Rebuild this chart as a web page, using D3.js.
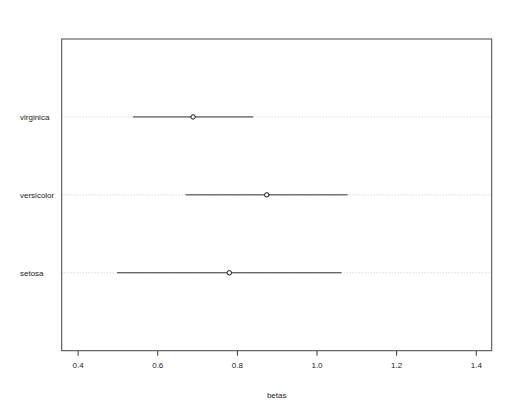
<!DOCTYPE html>
<html>
<head>
<meta charset="utf-8">
<script src="https://cdn.jsdelivr.net/npm/d3@7"></script>
<style>
  body { margin: 0; background: #fff; }
  text { font-family: "Liberation Sans", Arial, sans-serif; font-size: 8px; fill: #222; }
</style>
</head>
<body>
<div id="vis"></div>
<script>
// data
var species = ['setosa', 'versicolor', 'virginica'];
var betas = [0.781, 0.875, 0.690];
var lower = [0.499, 0.671, 0.539];
var upper = [1.063, 1.078, 0.841];
var xTicks = [0.4, 0.6, 0.8, 1.0, 1.2, 1.4];

var width = 512, height = 400;
var box = { left: 61.7, right: 491.7, top: 39, bottom: 350.7 };

var svg = d3.select('#vis').append('svg')
  .attr('width', width)
  .attr('height', height);

// R style: data range 0.4..1.4 with 4% padding
var x = d3.scaleLinear()
  .domain([0.4 - 0.04, 1.4 + 0.04])
  .range([box.left, box.right]);

var y = d3.scaleLinear()
  .domain([0, species.length + 1])
  .range([box.bottom, box.top]);

var rows = species.map(function (s, i) {
  return { name: s, beta: betas[i], lo: lower[i], hi: upper[i], pos: i + 1 };
});

// dotted guide lines
svg.append('g').selectAll('line')
  .data(rows)
  .enter()
  .append('line')
  .attr('x1', box.left)
  .attr('x2', box.right)
  .attr('y1', function (d) { return y(d.pos); })
  .attr('y2', function (d) { return y(d.pos); })
  .attr('stroke', '#c8c8c8')
  .attr('stroke-width', 1)
  .attr('stroke-dasharray', '1,2');

// interval lines
svg.append('g').selectAll('line')
  .data(rows)
  .enter()
  .append('line')
  .attr('x1', function (d) { return x(d.lo); })
  .attr('x2', function (d) { return x(d.hi); })
  .attr('y1', function (d) { return y(d.pos); })
  .attr('y2', function (d) { return y(d.pos); })
  .attr('stroke', '#333')
  .attr('stroke-width', 1);

// point estimates
svg.append('g').selectAll('circle')
  .data(rows)
  .enter()
  .append('circle')
  .attr('cx', function (d) { return x(d.beta); })
  .attr('cy', function (d) { return y(d.pos); })
  .attr('r', 2.2)
  .attr('fill', '#fff')
  .attr('stroke', '#111')
  .attr('stroke-width', 1);

// category labels, left aligned
svg.append('g').selectAll('text')
  .data(rows)
  .enter()
  .append('text')
  .attr('x', 20)
  .attr('y', function (d) { return y(d.pos); })
  .attr('dy', '0.35em')
  .text(function (d) { return d.name; });

// x axis
var xAxis = d3.axisBottom(x)
  .tickValues(xTicks)
  .tickFormat(d3.format('.1f'))
  .tickSize(5)
  .tickPadding(7);

var ax = svg.append('g')
  .attr('transform', 'translate(0,' + box.bottom + ')')
  .call(xAxis);
ax.select('.domain').remove();
ax.selectAll('.tick line').attr('stroke', '#333');
ax.selectAll('.tick text')
  .style('font-family', '"Liberation Sans", Arial, sans-serif')
  .style('font-size', '8px')
  .attr('fill', '#222');

// axis title
svg.append('text')
  .attr('x', (box.left + box.right) / 2)
  .attr('y', 395)
  .attr('dy', '0.35em')
  .attr('text-anchor', 'middle')
  .text('betas');

// plot frame
svg.append('rect')
  .attr('x', box.left)
  .attr('y', box.top)
  .attr('width', box.right - box.left)
  .attr('height', box.bottom - box.top)
  .attr('fill', 'none')
  .attr('stroke', '#444')
  .attr('stroke-width', 1);
</script>
</body>
</html>
